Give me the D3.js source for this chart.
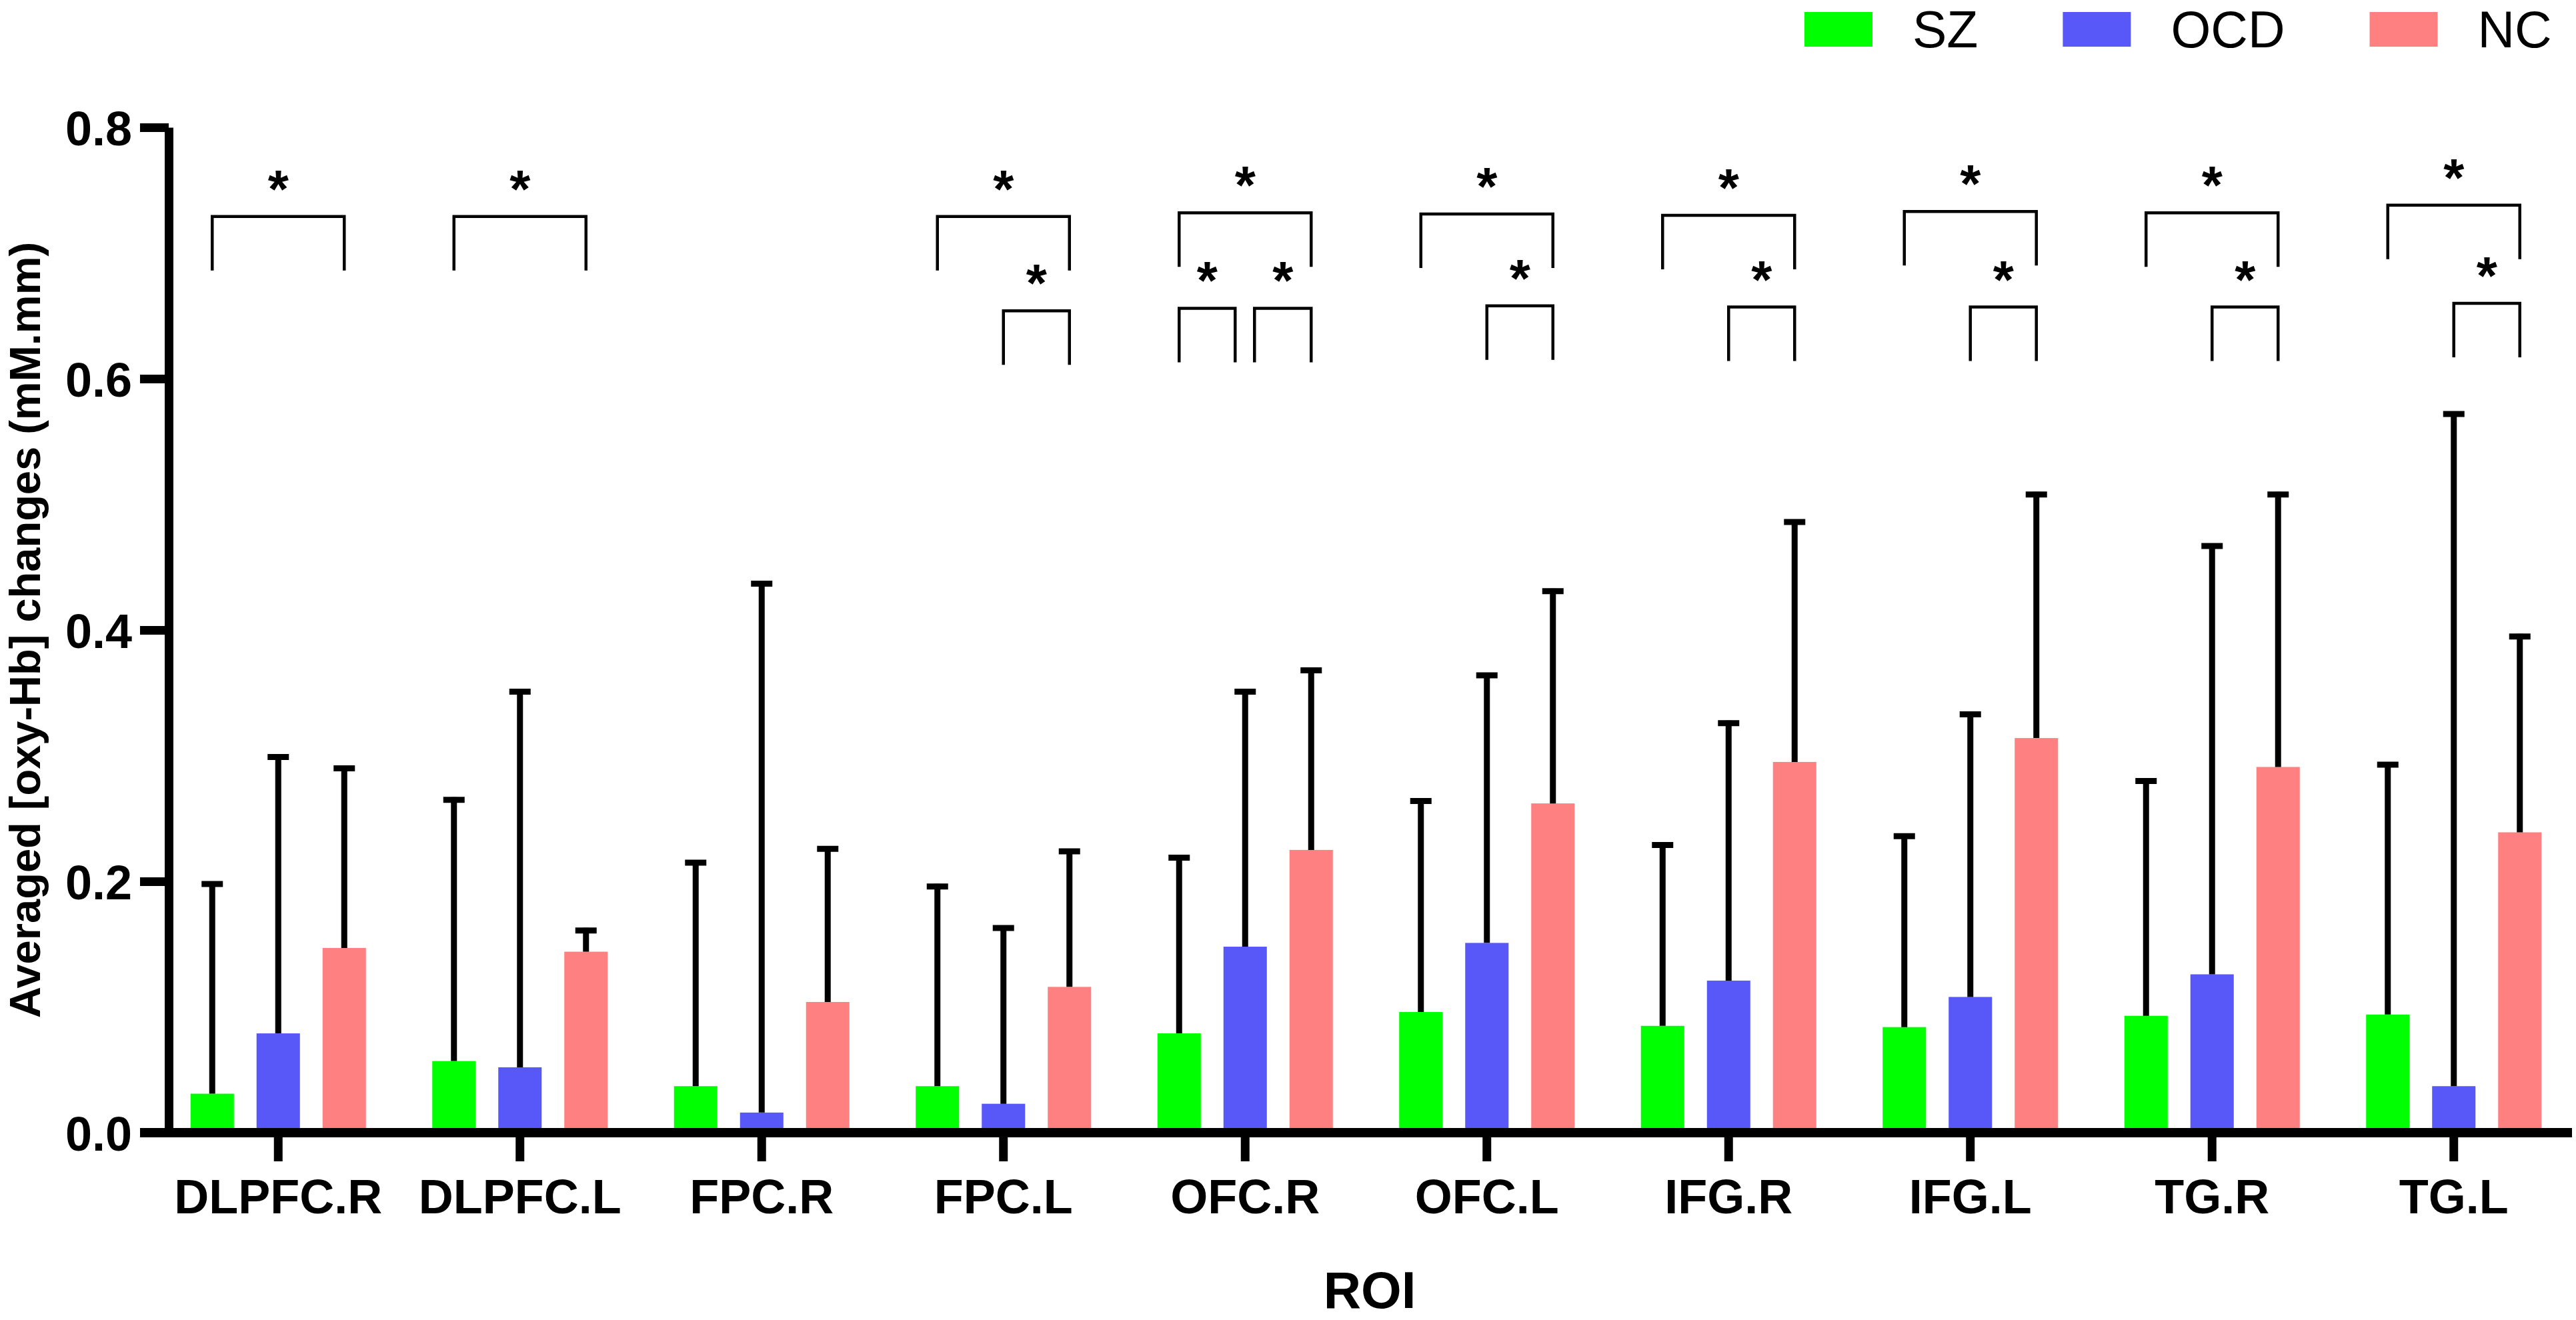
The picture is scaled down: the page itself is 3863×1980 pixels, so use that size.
<!DOCTYPE html>
<html>
<head>
<meta charset="utf-8">
<script src="https://cdn.jsdelivr.net/npm/d3@7"></script>
<style>
  body { margin: 0; background: #fff; }
  svg { display: block; font-family: "Liberation Sans", Arial, sans-serif; }
</style>
</head>
<body>
<div id="chart"></div>
<script>
// ROI categories and groups
var rois = ["DLPFC.R", "DLPFC.L", "FPC.R", "FPC.L", "OFC.R", "OFC.L", "IFG.R", "IFG.L", "TG.R", "TG.L"];
var groups = ["SZ", "OCD", "NC"];
var colors = ["#00ff00", "#5858f8", "#ff8080"];

// means and SDs (mM.mm)
var szMean  = [0.031, 0.057, 0.037, 0.037, 0.079, 0.096, 0.085, 0.084, 0.093, 0.094];
var szSD    = [0.169, 0.210, 0.180, 0.161, 0.142, 0.170, 0.146, 0.154, 0.189, 0.201];
var ocdMean = [0.079, 0.052, 0.016, 0.023, 0.148, 0.151, 0.121, 0.108, 0.126, 0.037];
var ocdSD   = [0.222, 0.301, 0.423, 0.142, 0.205, 0.215, 0.207, 0.227, 0.343, 0.537];
var ncMean  = [0.147, 0.144, 0.104, 0.116, 0.225, 0.262, 0.295, 0.314, 0.291, 0.239];
var ncSD    = [0.145, 0.019, 0.124, 0.110, 0.145, 0.171, 0.193, 0.196, 0.219, 0.158];

var yTicks = [0, 0.2, 0.4, 0.6, 0.8];

// significance brackets: roi, from group, to group, level (data units)
var sigPairs = [
  ["DLPFC.R", "SZ", "NC", 0.729],
  ["DLPFC.L", "SZ", "NC", 0.729],
  ["FPC.L", "SZ", "NC", 0.729],
  ["FPC.L", "OCD", "NC", 0.654],
  ["OFC.R", "SZ", "NC", 0.732],
  ["OFC.R", "SZ", "OCD", 0.656],
  ["OFC.R", "OCD", "NC", 0.656],
  ["OFC.L", "SZ", "NC", 0.731],
  ["OFC.L", "OCD", "NC", 0.658],
  ["IFG.R", "SZ", "NC", 0.730],
  ["IFG.R", "OCD", "NC", 0.657],
  ["IFG.L", "SZ", "NC", 0.733],
  ["IFG.L", "OCD", "NC", 0.657],
  ["TG.R", "SZ", "NC", 0.732],
  ["TG.R", "OCD", "NC", 0.657],
  ["TG.L", "SZ", "NC", 0.738],
  ["TG.L", "OCD", "NC", 0.660]
];

var means = [szMean, ocdMean, ncMean];
var sds = [szSD, ocdSD, ncSD];

var data = [];
rois.forEach(function(r, i) {
  groups.forEach(function(g, j) {
    data.push({ roi: r, group: g, mean: means[j][i], sd: sds[j][i], color: colors[j] });
  });
});

var W = 3863, H = 1980;
var svg = d3.select("#chart").append("svg")
  .attr("width", W)
  .attr("height", H);

var x = d3.scaleBand()
  .domain(rois)
  .range([236, 3861]);

var xg = d3.scaleBand()
  .domain(groups)
  .range([-148.5, 148.5])
  .paddingInner(0.343)
  .paddingOuter(0.1715);

var y = d3.scaleLinear()
  .domain([0, 0.8])
  .range([1699, 191]);

function cx(roi, group) {
  return x(roi) + x.bandwidth() / 2 + xg(group) + xg.bandwidth() / 2;
}

// bars
svg.selectAll(".bar")
  .data(data)
  .enter().append("rect")
    .attr("class", "bar")
    .attr("x", function(d) { return cx(d.roi, d.group) - xg.bandwidth() / 2; })
    .attr("width", xg.bandwidth())
    .attr("y", function(d) { return y(d.mean); })
    .attr("height", function(d) { return y(0) - y(d.mean); })
    .attr("fill", function(d) { return d.color; });

// error bars (upper only)
var err = svg.selectAll(".err")
  .data(data)
  .enter().append("g")
    .attr("class", "err");

err.append("line")
  .attr("x1", function(d) { return cx(d.roi, d.group); })
  .attr("x2", function(d) { return cx(d.roi, d.group); })
  .attr("y1", function(d) { return y(d.mean); })
  .attr("y2", function(d) { return y(d.mean + d.sd); })
  .attr("stroke", "#000")
  .attr("stroke-width", 9);

err.append("line")
  .attr("x1", function(d) { return cx(d.roi, d.group) - 16; })
  .attr("x2", function(d) { return cx(d.roi, d.group) + 16; })
  .attr("y1", function(d) { return y(d.mean + d.sd) + 4; })
  .attr("y2", function(d) { return y(d.mean + d.sd) + 4; })
  .attr("stroke", "#000")
  .attr("stroke-width", 9);

// y axis
var yAxis = svg.append("g")
  .attr("transform", "translate(253,0)")
  .call(d3.axisLeft(y)
    .tickValues(yTicks)
    .tickFormat(d3.format(".1f"))
    .tickSize(43)
    .tickSizeOuter(0)
    .tickPadding(12));

yAxis.select(".domain").attr("stroke-width", 13);
yAxis.selectAll(".tick line").attr("stroke-width", 13);
yAxis.selectAll(".tick text")
  .attr("dy", "0.37em")
  .attr("fill", "#000")
  .style("font-size", "72px")
  .style("font-weight", "bold")
  .style("font-family", "'Liberation Sans', Arial, sans-serif");

// x axis
var xAxis = svg.append("g")
  .attr("transform", "translate(0,1699)")
  .call(d3.axisBottom(x).tickSize(43).tickSizeOuter(0));

xAxis.select(".domain").remove();
xAxis.selectAll(".tick line").attr("stroke-width", 13);
xAxis.selectAll(".tick text")
  .attr("y", 121)
  .attr("dy", null)
  .attr("fill", "#000")
  .style("font-size", "72px")
  .style("font-weight", "bold")
  .style("font-family", "'Liberation Sans', Arial, sans-serif");

xAxis.append("line")
  .attr("x1", 210)
  .attr("x2", 3857)
  .attr("y1", 0)
  .attr("y2", 0)
  .attr("stroke", "#000")
  .attr("stroke-width", 14);

// axis titles
svg.append("text")
  .attr("transform", "translate(60,945) rotate(-90)")
  .attr("text-anchor", "middle")
  .style("font-size", "65px")
  .style("font-weight", "bold")
  .text("Averaged [oxy-Hb] changes (mM.mm)");

svg.append("text")
  .attr("x", 2054)
  .attr("y", 1962)
  .attr("text-anchor", "middle")
  .style("font-size", "78px")
  .style("font-weight", "bold")
  .text("ROI");

// significance brackets
var brackets = sigPairs.map(function(p) {
  var x1 = cx(p[0], p[1]), x2 = cx(p[0], p[2]);
  sigPairs.forEach(function(q) {
    if (q === p || q[0] !== p[0] || q[3] !== p[3]) return;
    if (q[2] === p[1]) x1 += 14;
    if (q[1] === p[2]) x2 -= 15;
  });
  return { x1: x1, x2: x2, level: p[3] };
});

var br = svg.selectAll(".bracket")
  .data(brackets)
  .enter().append("g")
    .attr("class", "bracket");

br.append("path")
  .attr("d", function(d) {
    var t = y(d.level);
    return "M" + d.x1 + "," + (t + 81) + "V" + t + "H" + d.x2 + "V" + (t + 81);
  })
  .attr("fill", "none")
  .attr("stroke", "#000")
  .attr("stroke-width", 4.5);

br.append("text")
  .attr("x", function(d) { return (d.x1 + d.x2) / 2; })
  .attr("y", function(d) { return y(d.level) - 14; })
  .attr("text-anchor", "middle")
  .style("font-size", "80px")
  .style("font-weight", "bold")
  .text("*");

// legend
var legend = svg.append("g");
var lx = 2706;
groups.forEach(function(g, i) {
  legend.append("rect")
    .attr("x", lx)
    .attr("y", 18)
    .attr("width", 102)
    .attr("height", 52)
    .attr("fill", colors[i]);
  var t = legend.append("text")
    .attr("x", lx + 162)
    .attr("y", 71)
    .style("font-size", "77px")
    .text(g);
  lx = lx + 162 + t.node().getComputedTextLength() + 127;
});
</script>
</body>
</html>
